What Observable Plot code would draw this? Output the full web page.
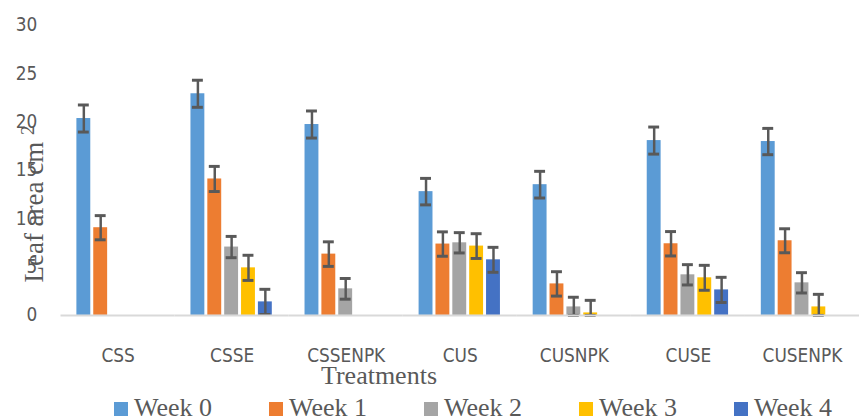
<!DOCTYPE html>
<html>
<head>
<meta charset="utf-8">
<script src="https://cdn.jsdelivr.net/npm/d3@7"></script>
<script src="https://cdn.jsdelivr.net/npm/@observablehq/plot@0.6"></script>
<style>
  html, body { margin: 0; padding: 0; background: #fff; overflow: hidden; }
  #wrap { position: relative; width: 861px; height: 419px; overflow: hidden; }
  .serif { font-family: "Liberation Serif", "Times New Roman", serif; color: #595959; white-space: nowrap; position: absolute; }
  #ylabel { left: -66.5px; top: 189px; width: 200px; height: 30px; line-height: 30px; font-size: 27px; text-align: center; transform: rotate(-90deg); }
  #ylabel .sup { font-size: 19px; position: relative; top: -9px; }
  #xlabel { left: 279px; top: 361px; width: 200px; line-height: 30px; font-size: 26px; text-align: center; }
  #legend { left: 114px; top: 393px; line-height: 30px; font-size: 26px; display: flex; }
  #legend .item { flex: 0 0 155px; }
  #legend .sw { display: inline-block; width: 14px; height: 14px; margin-right: 6px; }
</style>
</head>
<body>
<div id="wrap"></div>
<script>
const treatments = ["CSS", "CSSE", "CSSENPK", "CUS", "CUSNPK", "CUSE", "CUSENPK"];
const weeks = ["Week 0", "Week 1", "Week 2", "Week 3", "Week 4"];
const colors = ["#5B9BD5", "#ED7D31", "#A5A5A5", "#FFC000", "#4472C4"];

const week0 = [20.36, 22.92, 19.74, 12.8, 13.52, 18.08, 17.98];
const week1 = [9.07, 14.11, 6.34, 7.38, 3.26, 7.41, 7.72];
const week2 = [null, 7.07, 2.75, 7.51, 0.88, 4.2, 3.37];
const week3 = [null, 4.92, null, 7.17, 0.26, 3.89, 0.88];
const week4 = [null, 1.4, null, 5.75, null, 2.64, null];

const err0 = [1.4, 1.4, 1.4, 1.37, 1.38, 1.4, 1.36];
const err1 = [1.25, 1.3, 1.27, 1.26, 1.26, 1.26, 1.24];
const err2 = [null, 1.1, 1.07, 1.05, 1.0, 1.05, 1.05];
const err3 = [null, 1.3, null, 1.28, 1.3, 1.29, 1.3];
const err4 = [null, 1.3, null, 1.29, null, 1.3, null];

const yTicks = [0, 5, 10, 15, 20, 25, 30];

const series = [week0, week1, week2, week3, week4];
const errors = [err0, err1, err2, err3, err4];
const rows = [];
treatments.forEach((t, i) => {
  weeks.forEach((w, j) => {
    const v = series[j][i];
    if (v == null) return;
    const e = errors[j][i];
    rows.push({treatment: t, week: w, value: v, lo: Math.max(0, v - e), hi: v + e});
  });
});

const chart = Plot.plot({
  width: 868,
  height: 419,
  marginLeft: 59,
  marginRight: 0,
  marginTop: 25,
  marginBottom: 101.5,
  style: {
    fontFamily: "'DejaVu Sans Condensed', 'DejaVu Sans', sans-serif",
    fontStretch: "condensed",
    fontSize: "19px",
    color: "#595959",
    background: "#fff",
    overflow: "visible"
  },
  fx: {domain: treatments, padding: 0, label: null, axis: null},
  x: {domain: weeks, paddingInner: 0.15, paddingOuter: 0.87, axis: null},
  y: {domain: [0, 30], axis: null},
  color: {domain: weeks, range: colors},
  marks: [
    Plot.axisFx({anchor: "bottom", tickSize: 0, tickPadding: 33.5, label: null, fontSize: 19}),
    Plot.axisY({ticks: yTicks, tickSize: 0, tickPadding: 24, label: null, fontSize: 19}),
    Plot.barY(rows, {fx: "treatment", x: "week", y: "value", fill: "week"}),
    Plot.ruleX(rows, {fx: "treatment", x: "week", y1: "lo", y2: "hi", stroke: "#595959", strokeWidth: 2.5}),
    Plot.tickY(rows, {fx: "treatment", x: "week", y: "hi", stroke: "#595959", strokeWidth: 3, inset: 1.5}),
    Plot.tickY(rows, {fx: "treatment", x: "week", y: "lo", stroke: "#595959", strokeWidth: 3, inset: 1.5}),
    Plot.ruleY([0], {stroke: "#D9D9D9", strokeWidth: 2})
  ]
});

const wrap = document.getElementById("wrap");
wrap.appendChild(chart);

const ylab = document.createElement("div");
ylab.id = "ylabel"; ylab.className = "serif";
ylab.innerHTML = 'Leaf area cm <span class="sup">2</span>';
wrap.appendChild(ylab);

const xlab = document.createElement("div");
xlab.id = "xlabel"; xlab.className = "serif";
xlab.textContent = "Treatments";
wrap.appendChild(xlab);

const legend = document.createElement("div");
legend.id = "legend"; legend.className = "serif";
weeks.forEach((w, i) => {
  const item = document.createElement("span");
  item.className = "item";
  const sw = document.createElement("span");
  sw.className = "sw";
  sw.style.background = colors[i];
  item.appendChild(sw);
  item.appendChild(document.createTextNode(w));
  legend.appendChild(item);
});
wrap.appendChild(legend);
</script>
</body>
</html>
